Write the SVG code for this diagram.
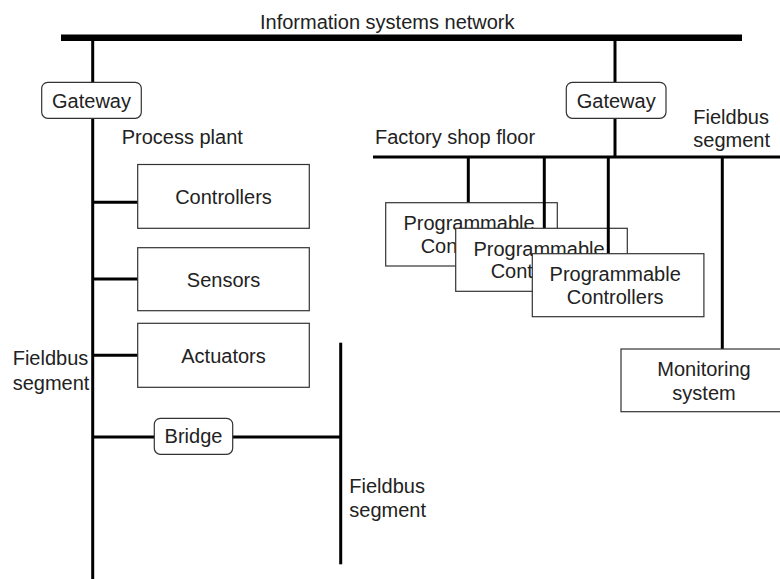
<svg xmlns="http://www.w3.org/2000/svg" width="780" height="579" viewBox="0 0 780 579">
<style>
text{font-family:"Liberation Sans",Arial,sans-serif;font-size:20px;fill:#222}
.box{fill:#fff;stroke:#333;stroke-width:1.2}
.c{text-anchor:middle}
.ln{stroke:#000;stroke-width:3;fill:none}
</style>
<rect width="780" height="579" fill="#fff"/>
<g id="connectors">
<line x1="61" y1="37.7" x2="742" y2="37.7" stroke="#000" stroke-width="6.5"/>
<line class="ln" x1="92.7" y1="40" x2="92.7" y2="579"/>
<line class="ln" x1="615" y1="40" x2="615" y2="157"/>
<line class="ln" x1="373" y1="157" x2="780" y2="157"/>
<line class="ln" x1="468.3" y1="157" x2="468.3" y2="203"/>
<line class="ln" x1="722.3" y1="157" x2="722.3" y2="349"/>
<line class="ln" x1="92.7" y1="202.3" x2="138" y2="202.3"/>
<line class="ln" x1="92.7" y1="279" x2="138" y2="279"/>
<line class="ln" x1="92.7" y1="355.3" x2="138" y2="355.3"/>
<line class="ln" x1="92.7" y1="437" x2="340.7" y2="437"/>
<line class="ln" x1="340.7" y1="342.7" x2="340.7" y2="564.3"/>
</g>
<text x="260" y="29">Information systems network</text>
<g id="gateway1"><rect class="box" x="41.7" y="82.3" width="99.6" height="36" rx="6"/><text class="c" x="91.5" y="108.3">Gateway</text></g>
<g id="gateway2"><rect class="box" x="566.3" y="82.3" width="99.7" height="36" rx="6"/><text class="c" x="616.2" y="108.3">Gateway</text></g>
<text x="121.7" y="144">Process plant</text>
<text x="375" y="144">Factory shop floor</text>
<text x="693.3" y="124">Fieldbus</text>
<text x="693.3" y="147">segment</text>
<g id="controllers"><rect class="box" x="137.7" y="164.5" width="171.6" height="63.8"/><text class="c" x="223.5" y="204">Controllers</text></g>
<g id="sensors"><rect class="box" x="137.7" y="247.7" width="171.6" height="63"/><text class="c" x="223.5" y="286.7">Sensors</text></g>
<g id="actuators"><rect class="box" x="137.7" y="323.3" width="171.6" height="64"/><text class="c" x="223.5" y="362.7">Actuators</text></g>
<g id="fieldbus-left"><text x="12.7" y="365">Fieldbus</text><text x="12.7" y="390">segment</text></g>
<g id="bridge"><rect class="box" x="154.3" y="418.3" width="78.4" height="36" rx="6"/><text class="c" x="193.5" y="443.3">Bridge</text></g>
<g id="fieldbus-right"><text x="349.3" y="492.7">Fieldbus</text><text x="349.3" y="516.7">segment</text></g>
<g id="plc1"><rect class="box" x="385.7" y="202.7" width="171.6" height="63.3"/><text class="c" x="469" y="230">Programmable</text><text class="c" x="469" y="252.7">Controllers</text></g>
<line class="ln" x1="544.3" y1="157" x2="544.3" y2="228.3"/>
<g id="plc2"><rect class="box" x="455.7" y="228.3" width="171.6" height="63"/><text class="c" x="539" y="255.7">Programmable</text><text class="c" x="539" y="278.3">Controllers</text></g>
<line class="ln" x1="608.3" y1="157" x2="608.3" y2="253.7"/>
<g id="plc3"><rect class="box" x="532.3" y="253.7" width="171.6" height="63"/><text class="c" x="615.2" y="280.7">Programmable</text><text class="c" x="615.2" y="304.3">Controllers</text></g>
<g id="monitoring"><rect class="box" x="621" y="349" width="172" height="62.7"/><text class="c" x="704" y="376">Monitoring</text><text class="c" x="704" y="400">system</text></g>
</svg>
